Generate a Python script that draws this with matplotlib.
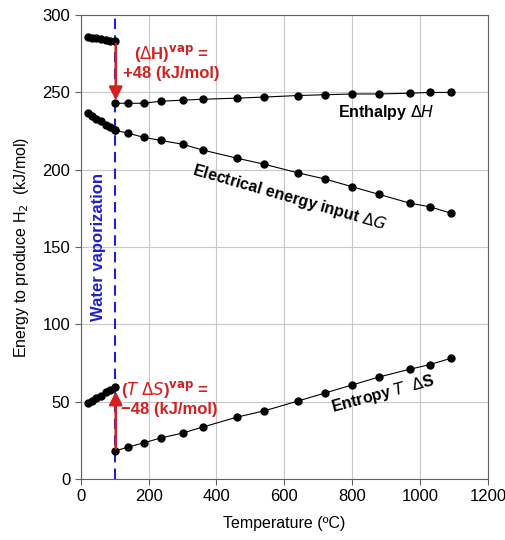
import matplotlib
matplotlib.use('Agg')
import matplotlib.pyplot as plt

plt.rcParams['font.family'] = ['Liberation Sans', 'DejaVu Sans']

# liquid water region (T <= 100 C)
t_liq = [20, 33, 46, 59, 75, 87, 100]
h_liq = [286, 285.5, 285, 284.6, 284, 283.5, 283]
g_liq = [237, 235, 233, 231.5, 229, 227.5, 225.6]
s_liq = [49, 50.4, 52.4, 53.7, 56.2, 57.5, 59.5]

# steam region (T >= 100 C)
t_gas = [100, 140, 185, 235, 300, 360, 460, 540, 640, 720, 800, 880, 970, 1030, 1090]
h_gas = [243, 243, 243, 244.3, 245, 245.6, 246.3, 247, 248, 248.5, 249, 249, 249.5, 250, 250]
g_gas = [225.6, 223.6, 221, 219, 216.5, 212.7, 207.5, 203.6, 198, 194, 189, 184, 178.4, 176, 172]
s_gas = [18, 20.7, 23.3, 26.5, 29.7, 33.6, 40, 44, 50.4, 55.6, 60.8, 66, 71, 74, 78]

t_vap = 100
red = '#d42020'
blue = '#2020d0'

fig = plt.figure(figsize=(5.05, 5.4), dpi=100)
ax = fig.add_axes([0.160, 0.113, 0.806, 0.859])

for t, y in [(t_liq, h_liq), (t_liq, g_liq), (t_liq, s_liq),
             (t_gas, h_gas), (t_gas, g_gas), (t_gas, s_gas)]:
    ax.plot(t, y, color='black', lw=0.8, marker='o', ms=5, zorder=3)

ax.axvline(t_vap, color=blue, lw=1.5, ls=(0, (5, 3)), zorder=2)
ax.text(52, 150, 'Water vaporization', rotation=90, color=blue,
        fontsize=12, fontweight='bold', ha='center', va='center')

ax.annotate('', xy=(t_vap + 3, h_gas[0]), xytext=(t_vap + 3, h_liq[-1]),
            arrowprops=dict(arrowstyle='-|>', color=red, lw=1.8,
                            mutation_scale=20), zorder=4)
ax.annotate('', xy=(t_vap + 3, s_liq[-1] - 1), xytext=(t_vap + 3, s_gas[0]),
            arrowprops=dict(arrowstyle='-|>', color=red, lw=1.8,
                            mutation_scale=20), zorder=4)

ax.text(266, 275, r'($\Delta$H)$^{\mathbf{vap}}$ =', color=red, fontsize=12,
        fontweight='bold', ha='center', va='center')
ax.text(266, 262, '+48 (kJ/mol)', color=red, fontsize=12,
        fontweight='bold', ha='center', va='center')
ax.text(248, 58, r'($\mathit{T}$ $\Delta\mathit{S}$)$^{\mathbf{vap}}$ =', color=red,
        fontsize=12, fontweight='bold', ha='center', va='center')
ax.text(262, 45, '\u221248 (kJ/mol)', color=red, fontsize=12,
        fontweight='bold', ha='center', va='center')

ax.text(900, 237, r'Enthalpy $\Delta H$', fontsize=11.5, fontweight='bold',
        ha='center', va='center')
ax.text(615, 182, r'Electrical energy input $\Delta G$', fontsize=11.5,
        fontweight='bold', ha='center', va='center', rotation=-16)
ax.text(890, 55, r'Entropy $T$  $\Delta$S', fontsize=11.5, fontweight='bold',
        ha='center', va='center', rotation=15)

ax.set_xlim(0, 1200)
ax.set_ylim(0, 300)
ax.set_xticks(range(0, 1201, 200))
ax.set_yticks(range(0, 301, 50))
ax.grid(color='#c8c8c8', lw=0.8)
ax.set_axisbelow(True)
for s in ax.spines.values():
    s.set_color('#606060')
ax.tick_params(labelsize=12, color='#606060', length=4)
ax.set_xlabel('Temperature (ºC)', fontsize=11.5, labelpad=8)
ax.set_ylabel('Energy to produce H$_2$  (kJ/mol)', fontsize=11.5, labelpad=8)

fig.savefig('out.png', dpi=100)
